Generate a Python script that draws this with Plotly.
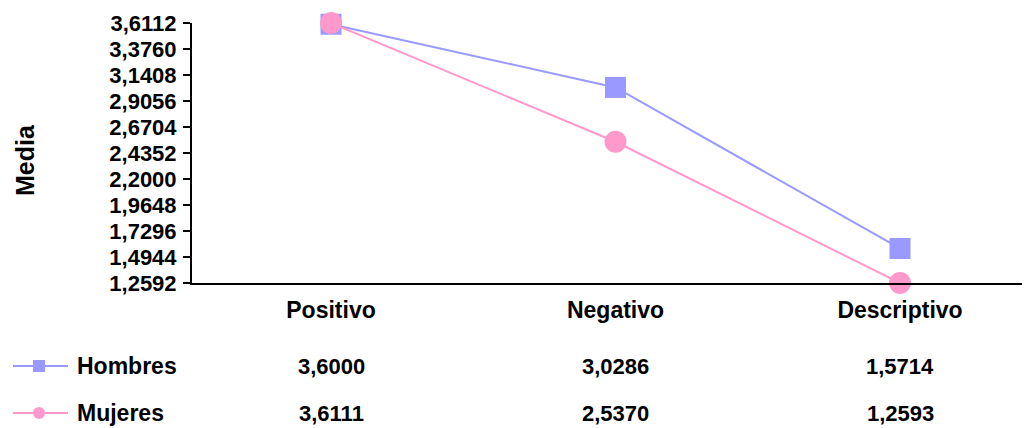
import plotly.graph_objects as go

categories = ["Positivo", "Negativo", "Descriptivo"]
hombres = [3.6000, 3.0286, 1.5714]
mujeres = [3.6111, 2.5370, 1.2593]
series_names = ["Hombres", "Mujeres"]
y_ticks = [1.2592, 1.4944, 1.7296, 1.9648, 2.2000, 2.4352, 2.6704, 2.9056, 3.1408, 3.3760, 3.6112]

BLUE = "#9999FF"
PINK = "#FF99CC"
FAM = "Liberation Sans, Arial, sans-serif"
FONT = dict(family=FAM, size=22, color="black", weight="bold")
CAT_FONT = dict(family=FAM, size=23, color="black", weight="bold")
TITLE_FONT = dict(family=FAM, size=25, color="black", weight="bold")

# page is offset by the browser's default 8px body margin
OFF = 8
PAGE_W, PAGE_H = 1030, 428
W, H = PAGE_W - OFF, PAGE_H - OFF


def px(v):
    return v - OFF


left_px, top_px, bottom_px = px(192), px(23), px(283)
cat_px = [px(331), px(616), px(900)]
spacing = (cat_px[2] - cat_px[0]) / 2
x_lo = -(cat_px[0] - left_px) / spacing
x_hi = 2 + (W - cat_px[2]) / spacing

fig = go.Figure()

fig.add_trace(go.Scatter(
    x=categories, y=hombres, name=series_names[0], mode="lines+markers",
    line=dict(color=BLUE, width=2),
    marker=dict(symbol="square", size=21, color=BLUE),
    cliponaxis=False, showlegend=False))
fig.add_trace(go.Scatter(
    x=categories, y=mujeres, name=series_names[1], mode="lines+markers",
    line=dict(color=PINK, width=2),
    marker=dict(symbol="circle", size=22, color=PINK),
    cliponaxis=False, showlegend=False))

# legend keys on an overlay pixel axis
row_y = [px(366), px(413)]
key_colors = [BLUE, PINK]
key_symbols = ["square", "circle"]
for name, ry, c, s in zip(series_names, row_y, key_colors, key_symbols):
    fig.add_trace(go.Scatter(x=[px(13), px(68)], y=[ry, ry], mode="lines", xaxis="x2", yaxis="y2",
                             line=dict(color=c, width=2), showlegend=False, hoverinfo="skip"))
    fig.add_trace(go.Scatter(x=[px(39)], y=[ry], mode="markers", xaxis="x2", yaxis="y2",
                             marker=dict(symbol=s, size=12, color=c), showlegend=False, hoverinfo="skip"))

annotations = []
for name, ry, vals in zip(series_names, row_y, [hombres, mujeres]):
    annotations.append(dict(text=name, x=px(75), y=ry, xref="x2", yref="y2", xanchor="left",
                            yanchor="middle", showarrow=False, font=CAT_FONT))
    for cat, v in zip(categories, vals):
        annotations.append(dict(text=f"{v:.4f}".replace(".", ","), x=cat, y=ry, xref="x", yref="y2",
                                xanchor="center", yanchor="middle", showarrow=False, font=FONT))
annotations.append(dict(text="Media", x=px(25), y=px(160), xref="x2", yref="y2", textangle=-90,
                        showarrow=False, font=TITLE_FONT))

ydom = [(H - bottom_px) / H, (H - top_px) / H]
fig.update_layout(
    template="none",
    width=W, height=H, margin=dict(l=0, r=0, t=0, b=0, pad=0, autoexpand=False),
    paper_bgcolor="white", plot_bgcolor="rgba(0,0,0,0)",
    separators=",.",
    font=FONT,
    xaxis=dict(type="category", domain=[left_px / W, 1], range=[x_lo, x_hi], anchor="y",
               showline=True, linecolor="black", linewidth=2, showgrid=False, zeroline=False,
               ticks="", tickfont=CAT_FONT, ticklabelstandoff=5, automargin=False),
    yaxis=dict(domain=ydom, range=[y_ticks[0], y_ticks[-1]], anchor="x",
               tickvals=y_ticks, tickformat=".4f", ticks="outside", ticklen=7, tickwidth=2,
               tickcolor="black", showline=True, linecolor="black", linewidth=2,
               showgrid=False, zeroline=False, tickfont=FONT, ticklabelstandoff=2, automargin=False),
    yaxis3=dict(domain=ydom, range=[y_ticks[0], y_ticks[-1]], overlaying="y", anchor="x",
                tickvals=y_ticks, ticks="inside", ticklen=7, tickwidth=2, tickcolor="black",
                showticklabels=False, showline=False, showgrid=False, zeroline=False, automargin=False),
    xaxis2=dict(domain=[0, 1], range=[0, W], visible=False, anchor="y2", automargin=False),
    yaxis2=dict(domain=[0, 1], range=[H, 0], visible=False, anchor="x2", automargin=False),
    annotations=annotations,
)

fig.write_html("out.html")
